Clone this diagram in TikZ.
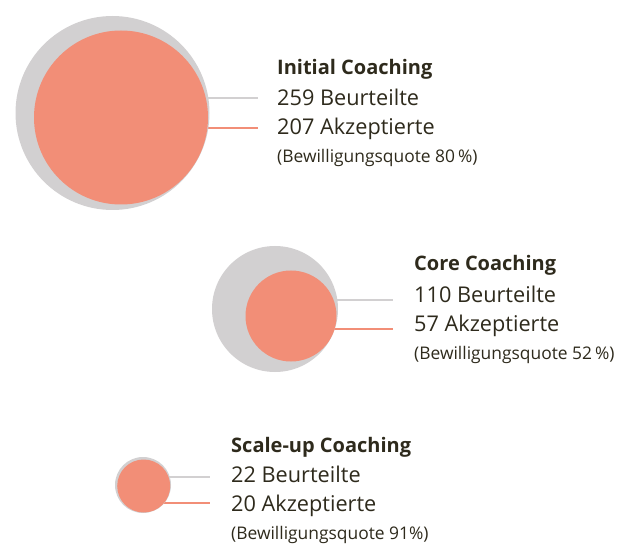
\documentclass[tikz,border=0pt]{standalone}
\usepackage{fontspec}
\setmainfont{Open Sans}
\definecolor{salmon}{HTML}{F28E77}
\definecolor{lightgrey}{HTML}{D2D0D1}
\definecolor{inkbrown}{HTML}{2E2A1C}
\tikzset{
    total/.style={circle, fill=lightgrey, inner sep=0pt},
    accepted/.style={circle, fill=salmon, inner sep=0pt},
    greyline/.style={draw=lightgrey, line width=2.5pt},
    salmonline/.style={draw=salmon, line width=2.5pt},
    title/.style={anchor=base west, inner sep=0pt, text=inkbrown, font=\fontsize{20}{24}\selectfont\bfseries},
    figure/.style={anchor=base west, inner sep=0pt, text=inkbrown, font=\fontsize{21.7}{25}\selectfont},
    quote/.style={anchor=base west, inner sep=0pt, text=inkbrown, font=\fontsize{17.4}{20}\selectfont}
}
\begin{document}
\begin{tikzpicture}[x=1pt,y=-1pt]
        \useasboundingbox (0,0) rectangle (629,553);
        % end points of the connectors
        \coordinate (e1a) at (258,98);
        \coordinate (e1b) at (258,128);
        \coordinate (e2a) at (393,300);
        \coordinate (e2b) at (393,329);
        \coordinate (e3a) at (210,477);
        \coordinate (e3b) at (210,503);
        % Initial Coaching
        \coordinate (c1) at (112.5,113);
        \draw[greyline] (c1 |- e1a) -- (e1a);
        \draw[salmonline] (c1 |- e1b) -- (e1b);
        \node[total, minimum size=194pt] (g1) at (c1) {};
        \node[accepted, minimum size=174pt] (s1) at (121,117.5) {};
        \node[title] (t1) at (277,75) {Initial Coaching};
        \node[figure] (b1) at (277,106) {259 Beurteilte};
        \node[figure] (a1) at (277,135) {207 Akzeptierte};
        \node[quote] (q1) at (277,163) {(Bewilligungsquote 80\,\%)};
        % Core Coaching
        \coordinate (c2) at (275,309);
        \draw[greyline] (c2 |- e2a) -- (e2a);
        \draw[salmonline] (c2 |- e2b) -- (e2b);
        \node[total, minimum size=126pt] (g2) at (c2) {};
        \node[accepted, minimum size=91pt] (s2) at (291,316) {};
        \node[title] (t2) at (414,271) {Core Coaching};
        \node[figure] (b2) at (414,302) {110 Beurteilte};
        \node[figure] (a2) at (414,331) {57 Akzeptierte};
        \node[quote] (q2) at (414,359) {(Bewilligungsquote 52\,\%)};
        % Scale-up Coaching
        \coordinate (c3) at (143,485);
        \draw[greyline] (c3 |- e3a) -- (e3a);
        \draw[salmonline] (c3 |- e3b) -- (e3b);
        \node[total, minimum size=56pt] (g3) at (c3) {};
        \node[accepted, minimum size=53pt] (s3) at (143.7,486) {};
        \node[title] (t3) at (231,452) {Scale-up Coaching};
        \node[figure] (b3) at (231,482) {22 Beurteilte};
        \node[figure] (a3) at (231,511) {20 Akzeptierte};
        \node[quote] (q3) at (231,539) {(Bewilligungsquote 91\%)};
    \end{tikzpicture}
\end{document}
